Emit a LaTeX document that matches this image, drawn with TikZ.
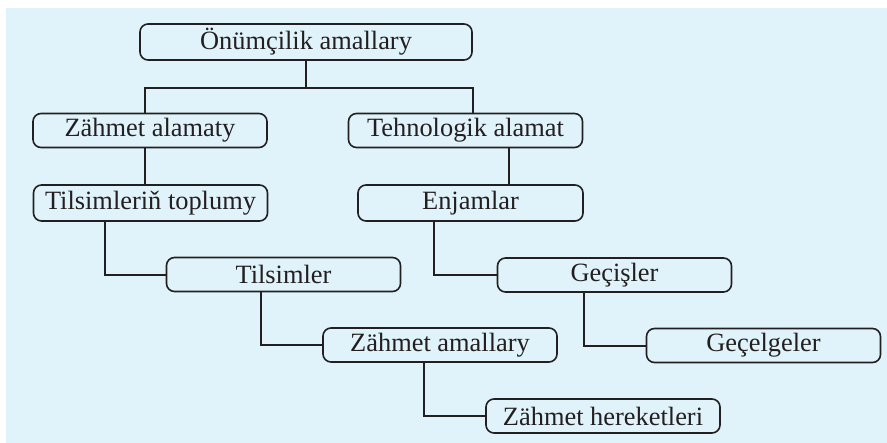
\documentclass[tikz,border=0pt]{standalone}
\usepackage{fontspec}
\setmainfont{Liberation Serif}
\definecolor{bgblue}{RGB}{224,243,251}
\definecolor{ink}{RGB}{35,31,32}
\tikzset{
  box/.style={draw=ink, fill=bgblue, rounded corners=4pt, line width=0.8pt,
    minimum width=117pt, minimum height=17pt, inner sep=0pt, text=ink,
    font=\fontsize{13.2}{15}\selectfont},
  link/.style={draw=ink, line width=1pt}
}
\begin{document}
\begin{tikzpicture}[x=0.5pt, y=-0.5pt]
\useasboundingbox (0,0) rectangle (887,443);
\fill[bgblue] (6,8) rectangle (887,443);
% boxes
\node[box, minimum width=166pt, minimum height=18pt] (prod) at (306,42) {Önümçilik amallary};
\node[box] (labour) at (150,130.5) {Zähmet alamaty};
\node[box] (tech) at (465.5,130.5) {Tehnologik alamat};
\node[box, minimum height=18pt] (signset) at (150.5,203) {Tilsimleriň toplumy};
\node[box, minimum width=112.5pt, minimum height=18pt] (tools) at (470.5,203) {Enjamlar};
\node[box] (signs) at (283.5,274.5) {Tilsimler};
\node[box] (trans) at (614.5,275) {Geçişler};
\node[box] (ops) at (440,345) {Zähmet amallary};
\node[box] (stages) at (763.5,345.5) {Geçelgeler};
\node[box] (moves) at (603,416) {Zähmet hereketleri};
% connectors
\coordinate (fork) at (306,88);
\path (145,0) coordinate (vl) (473,0) coordinate (vr) (509,0) coordinate (vt);
\draw[link] (prod.south) -- (fork);
\draw[link] (labour.north -| vl) |- (fork) -| (tech.north -| vr);
\draw[link] (labour.south -| vl) -- (signset.north -| vl);
\draw[link] (tech.south -| vt) -- (tools.north -| vt);
\foreach \a/\b/\x in {signset/signs/105, signs/ops/261, ops/moves/424, tools/trans/434, trans/stages/584}
{
    \path (\x,0) coordinate (v);
    \draw[link] (\a.south -| v) |- (\b.west);
}
\end{tikzpicture}
\end{document}
